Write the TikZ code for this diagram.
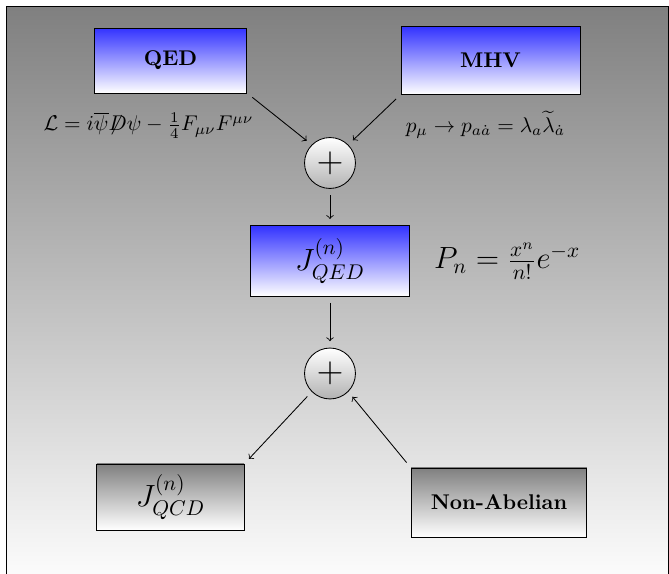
\documentclass[tikz,border=0pt]{standalone}
\usepackage{amsmath,amssymb}
\usepackage{tikz}
\usetikzlibrary{positioning}

\begin{document}
\begin{tikzpicture}[
    x=0.0165cm, y=-0.0165cm,
    bluebox/.style={
        rectangle,
        draw,
        top color=blue!80,
        bottom color=white,
        align=center
    },
    graybox/.style={
        rectangle,
        draw,
        top color=gray,
        bottom color=white,
        align=center
    },
    sumnode/.style={
        circle,
        draw,
        top color=white,
        bottom color=gray!60,
        minimum size=0.84cm,
        inner sep=0pt,
        font=\LARGE
    },
    arrow/.style={
        ->,
        shorten <=3pt,
        shorten >=3pt
    }
]

% =========================
% Frame and background
% =========================

\useasboundingbox (0,0) rectangle (669,574);
\shade[top color=gray, bottom color=white, draw] (6,6) rectangle (668,590);

% =========================
% Inputs
% =========================

\node[bluebox, minimum width=2.52cm, minimum height=1.07cm] (qed) at (170.5,60.5)
{\bfseries QED};

\node[bluebox, minimum width=2.95cm, minimum height=1.11cm] (mhv) at (490.5,60.5)
{\bfseries MHV};

\node (lagrangian) at (148.5,125)
{$\mathcal{L} = i\overline{\psi}\mathord{\not\mathrel{D}}\psi - \frac{1}{4}F_{\mu\nu}F^{\mu\nu}$};

\node (spinor) at (485.5,125)
{$p_\mu \rightarrow p_{a\dot{a}} = \lambda_a\widetilde{\lambda}_{\dot{a}}$};

% =========================
% Middle row
% =========================

\node[sumnode] (sumtop) at (330,163) {$+$};

\node[bluebox, minimum width=2.61cm, minimum height=1.16cm, font=\Large] (jqed) at (330,261)
{$J^{(n)}_{QED}$};

\node[font=\Large, right=0.28cm of jqed] (poisson)
{$P_n = \frac{x^n}{n!}e^{-x}$};

\node[sumnode] (sumbot) at (330,373.5) {$+$};

% =========================
% Outputs
% =========================

\node[graybox, minimum width=2.43cm, minimum height=1.09cm, font=\Large] (jqcd) at (170.5,497)
{$J^{(n)}_{QCD}$};

\node[graybox, minimum width=2.90cm, minimum height=1.14cm] (nonabelian) at (499,502.5)
{\bfseries Non-Abelian};

% =========================
% Connections
% =========================

\draw[arrow] (qed.south east) -- (sumtop.north west);
\draw[arrow] (mhv.south west) -- (sumtop.north east);
\draw[arrow] (sumtop) -- (jqed);
\draw[arrow] (jqed) -- (sumbot);
\draw[arrow] (sumbot.south west) -- (jqcd.north east);
\draw[arrow] (nonabelian.north west) -- (sumbot.south east);

\end{tikzpicture}
\end{document}
